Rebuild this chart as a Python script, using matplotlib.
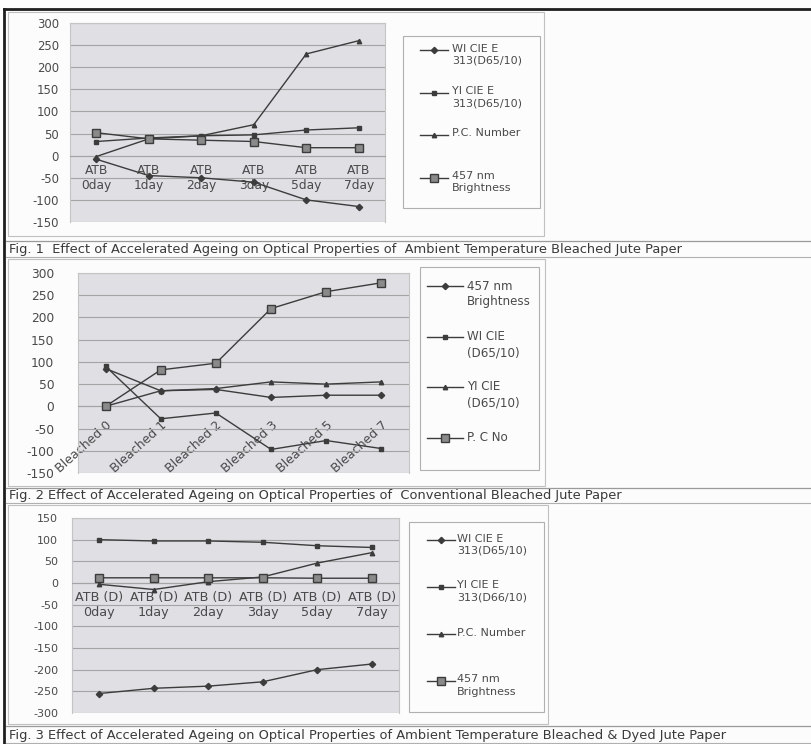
import matplotlib
matplotlib.use("Agg")
import matplotlib.pyplot as plt
from matplotlib.patches import Rectangle
from matplotlib.transforms import ScaledTranslation

W, H = 811, 744
plt.rcParams['font.family'] = ['DejaVu Sans']
plt.rcParams['axes.unicode_minus'] = False

# ---- data -------------------------------------------------------------
days = ["0day", "1day", "2day", "3day", "5day", "7day"]
atb_labels = ["ATB\n" + d for d in days]
bleached_labels = ["Bleached 0", "Bleached 1", "Bleached 2",
                   "Bleached 3", "Bleached 5", "Bleached 7"]
atbd_labels = ["ATB (D)\n" + d for d in days]

# Fig. 1 - ambient temperature bleached
wi1 = [-8, -45, -50, -60, -100, -115]
yi1 = [32, 40, 45, 47, 58, 63]
pc1 = [-2, 38, 45, 70, 230, 260]
br1 = [52, 38, 35, 32, 18, 18]

# Fig. 2 - conventional bleached
br2 = [85, 35, 38, 20, 25, 25]
wi2 = [90, -28, -15, -97, -77, -95]
yi2 = [0, 35, 40, 55, 50, 55]
pc2 = [0, 82, 97, 220, 258, 278]

# Fig. 3 - ambient temperature bleached & dyed
wi3 = [-255, -243, -238, -228, -200, -187]
yi3 = [100, 97, 97, 94, 86, 82]
pc3 = [-3, -15, 3, 14, 46, 70]
br3 = [12, 12, 12, 12, 11, 11]

names1 = ["WI CIE E\n313(D65/10)", "YI CIE E\n313(D65/10)", "P.C. Number", "457 nm\nBrightness"]
names2 = ["457 nm\nBrightness", "WI CIE\n(D65/10)", "YI CIE\n(D65/10)", "P. C No"]
names3 = ["WI CIE E\n313(D65/10)", "YI CIE E\n313(D66/10)", "P.C. Number", "457 nm\nBrightness"]

captions = [
    "Fig. 1  Effect of Accelerated Ageing on Optical Properties of  Ambient Temperature Bleached Jute Paper",
    "Fig. 2 Effect of Accelerated Ageing on Optical Properties of  Conventional Bleached Jute Paper",
    "Fig. 3 Effect of Accelerated Ageing on Optical Properties of Ambient Temperature Bleached & Dyed Jute Paper",
]

# ---- styles -------------------------------------------------------------
LINE = '#3c3c3c'
GRID = '#a4a4a4'
TEXT = '#4a4a4a'
PLOT_BG = '#dfdfe4'

diamond = dict(marker='D', ms=3.2, mfc=LINE, mec=LINE)
small_sq = dict(marker='s', ms=3.2, mfc=LINE, mec=LINE)
tri = dict(marker='^', ms=3.2, mfc=LINE, mec=LINE)
big_sq = dict(marker='s', ms=5.5, mfc='#8a8a8a', mec=LINE, mew=1.0)

fig = plt.figure(figsize=(W / 100, H / 100), dpi=100)
fig.patch.set_facecolor('#fcfcfc')

# overlay in pixel coordinates for frames, captions and legends
ov = fig.add_axes([0, 0, 1, 1], zorder=0)
ov.set_xlim(0, W)
ov.set_ylim(H, 0)
ov.axis('off')


def px_axes(x0, y0, x1, y1):
    return fig.add_axes([x0 / W, 1 - y1 / H, (x1 - x0) / W, (y1 - y0) / H], zorder=2)


def chart(box, ylim, labels, series, styles, rotated=False, ysize=7.5, ypad=9,
          xsize=8.2, xpad=7):
    ax = px_axes(*box)
    ax.set_facecolor(PLOT_BG)
    x = list(range(len(labels)))
    for vals, st in zip(series, styles):
        ax.plot(x, vals, color=LINE, lw=1.0, **st, zorder=3)
    ax.set_xlim(-0.5, len(labels) - 0.5)
    ax.set_ylim(*ylim)
    ax.set_yticks(range(ylim[0], ylim[1] + 1, 50))
    ax.yaxis.grid(True, color=GRID, lw=0.8)
    ax.set_axisbelow(True)
    for s in ['top', 'right', 'left']:
        ax.spines[s].set_color('#c4c4c4')
        ax.spines[s].set_linewidth(0.8)
    ax.spines['bottom'].set_position(('data', 0))
    ax.spines['bottom'].set_color(GRID)
    ax.spines['bottom'].set_linewidth(0.8)
    ax.tick_params(axis='y', length=0, pad=ypad, labelsize=ysize, labelcolor=TEXT)
    ax.set_xticks(x)
    if rotated:
        ax.set_xticklabels(labels, rotation=42, ha='right', va='top',
                           rotation_mode='anchor', fontsize=xsize, color=TEXT)
        shift = ScaledTranslation(-7 / 72, 0, fig.dpi_scale_trans)
        for lab in ax.get_xticklabels():
            lab.set_transform(lab.get_transform() + shift)
    else:
        ax.set_xticklabels(labels, fontsize=xsize, color=TEXT, linespacing=1.15)
    ax.tick_params(axis='x', length=0, pad=xpad)
    return ax


def legend(box, names, styles, first_y, step, sample_x, text_x, size=6.6):
    x0, y0, x1, y1 = box
    ov.add_patch(Rectangle((x0, y0), x1 - x0, y1 - y0, fill=False,
                           ec='#b0b0b0', lw=0.8))
    for i, (nm, st) in enumerate(zip(names, styles)):
        y = first_y + i * step
        ov.plot([sample_x[0], (sample_x[0] + sample_x[1]) / 2, sample_x[1]],
                [y, y, y], color=LINE, lw=1.0, markevery=[1], **st)
        ov.text(text_x, y - 6.5, nm, fontsize=size, color=TEXT, va='top',
                ha='left', linespacing=1.3)


# page rules
ov.plot([4, W], [9, 9], color='#1e1e1e', lw=2.0)
ov.plot([4, 4], [9, H], color='#1e1e1e', lw=2.0)

# chart frames
for (fx0, fy0, fx1, fy1) in [(8, 12, 544, 236), (8, 259, 545, 486), (8, 505, 548, 724)]:
    ov.add_patch(Rectangle((fx0, fy0), fx1 - fx0, fy1 - fy0, fill=False,
                           ec='#c0c0c0', lw=0.8))

# caption bands
for (ya, yb, ty), cap in zip([(241, 257, 249), (488, 503, 496), (726, 743, 735)], captions):
    ov.plot([6, W], [ya, ya], color='#9a9a9a', lw=0.9)
    ov.plot([6, W], [yb, yb], color='#b0b0b0', lw=0.8)
    ov.text(9, ty, cap, fontsize=9.4, color='#3a3a3a', va='center', ha='left')

# Fig. 1
styles1 = [diamond, small_sq, tri, big_sq]
chart((70, 23, 385, 222), (-150, 300), atb_labels, [wi1, yi1, pc1, br1], styles1,
      ysize=8.4, ypad=8, xsize=8.8, xpad=6)
legend((403, 36, 540, 208), names1, styles1, 50, 42.5, (420, 448), 452, size=8.0)

# Fig. 2
styles2 = [diamond, small_sq, tri, big_sq]
chart((78, 273, 409, 473), (-150, 300), bleached_labels, [br2, wi2, yi2, pc2], styles2,
      rotated=True, ysize=8.8, ypad=17, xsize=9.0, xpad=9)
legend((420, 267, 539, 470), names2, styles2, 286, 50.5, (427, 463), 467, size=8.6)

# Fig. 3
styles3 = [diamond, small_sq, tri, big_sq]
chart((72, 518, 399, 713), (-300, 150), atbd_labels, [wi3, yi3, pc3, br3], styles3,
      ysize=8.0, ypad=10, xsize=9.2, xpad=6)
legend((409, 522, 544, 712), names3, styles3, 540, 47, (427, 455), 457, size=8.0)

fig.savefig("out.png", dpi=100, facecolor=fig.get_facecolor())
